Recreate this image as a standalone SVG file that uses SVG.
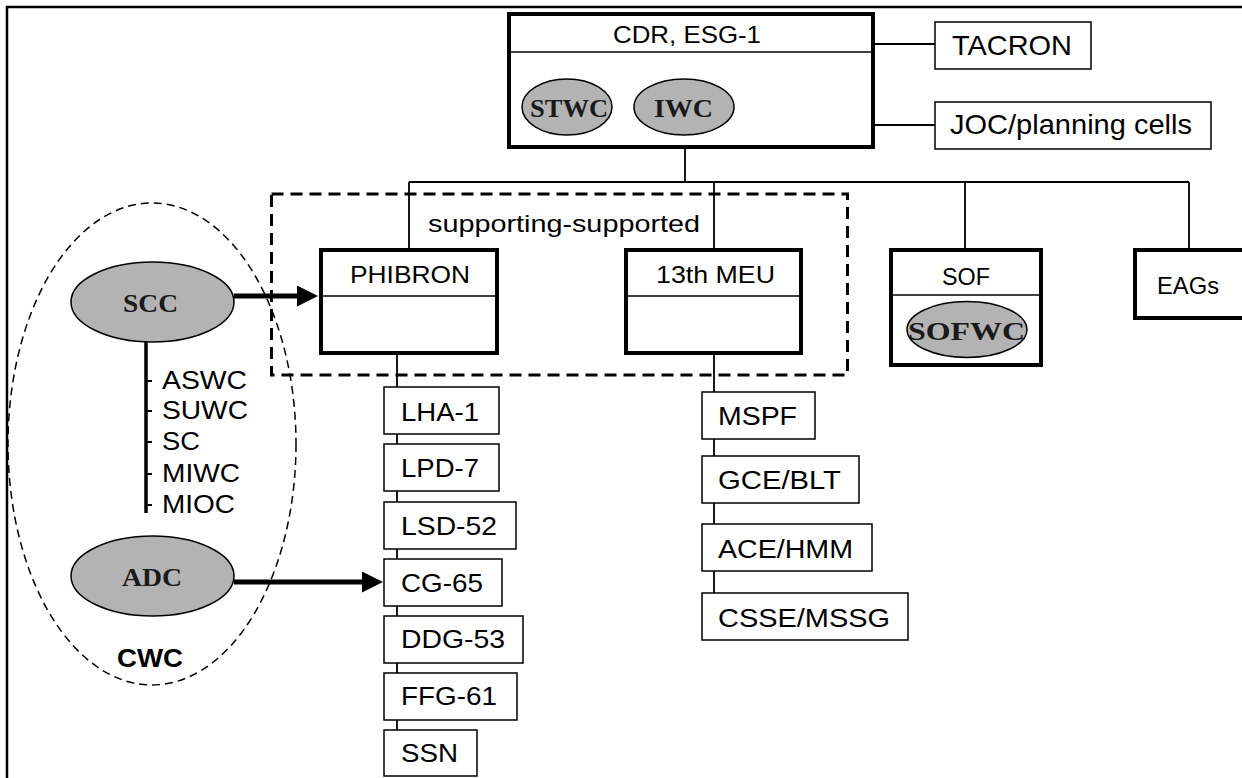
<svg xmlns="http://www.w3.org/2000/svg" width="1242" height="778" viewBox="0 0 1242 778">
<style>
.frame{fill:none;stroke:#000;stroke-width:2.5}
.thick{fill:#fff;stroke:#000;stroke-width:4}
.thin{fill:#fff;stroke:#000;stroke-width:1.5}
.div{fill:none;stroke:#000;stroke-width:1.5}
.ln{fill:none;stroke:#000;stroke-width:1.8}
.el{fill:#b3b3b3;stroke:#000;stroke-width:1.5}
.t{font-family:"Liberation Sans",Arial,sans-serif;font-size:25px;fill:#000}
.h{font-family:"Liberation Sans",Arial,sans-serif;font-size:24px;fill:#000}
.b{font-family:"Liberation Sans",Arial,sans-serif;font-size:26px;font-weight:bold;fill:#000}
.s{font-family:"Liberation Serif","Times New Roman",serif;font-weight:bold;font-size:26px;fill:#1a1a1a}
.arr{fill:none;stroke:#000;stroke-width:5;marker-end:url(#ah)}
</style>
<defs>
<marker id="ah" markerUnits="userSpaceOnUse" markerWidth="22" markerHeight="22" refX="0" refY="10.5" orient="auto">
<path d="M0,0 L21,10.5 L0,21 Z" fill="#000"/>
</marker>
</defs>
<rect width="1242" height="778" fill="#fff"/>
<path class="frame" d="M7,778 V7 H1242"/>

<g id="connectors">
<path class="ln" d="M685,149 V182 M409,182 H1189 M409,182 V250 M714,182 V250 M965,182 V250 M1189,182 V250"/>
<path class="ln" d="M875,44 H935 M875,125 H935"/>
<path class="ln" d="M397,355 V730 M714,355 V593"/>
<path fill="none" stroke="#000" stroke-width="3.5" d="M146,342 V513"/>
<path class="ln" d="M146,381 h6 M146,411 h6 M146,442 h6 M146,474 h6 M146,505 h6"/>
<path class="arr" d="M234,296 H297"/>
<path class="arr" d="M234,582 H362"/>
</g>

<g id="supporting-group">
<rect x="271.5" y="194" width="576" height="181" fill="none" stroke="#000" stroke-width="3" stroke-dasharray="12 7"/>
<text class="h" x="428" y="232" textLength="272" lengthAdjust="spacingAndGlyphs">supporting-supported</text>
</g>

<g id="cwc-group">
<ellipse cx="152" cy="444" rx="144" ry="241" fill="none" stroke="#000" stroke-width="1.5" stroke-dasharray="8 5"/>
<text class="b" x="117" y="667" textLength="66" lengthAdjust="spacingAndGlyphs">CWC</text>
</g>

<g id="cdr">
<rect class="thick" x="509" y="14" width="364" height="133"/>
<path class="div" d="M509,52 H873"/>
<text class="h" x="613" y="43" textLength="148" lengthAdjust="spacingAndGlyphs">CDR, ESG-1</text>
<ellipse class="el" cx="567" cy="107" rx="45" ry="28"/>
<text class="s" x="530" y="117" textLength="78" lengthAdjust="spacingAndGlyphs">STWC</text>
<ellipse class="el" cx="684" cy="107" rx="50" ry="28"/>
<text class="s" x="654" y="117" textLength="59" lengthAdjust="spacingAndGlyphs">IWC</text>
</g>

<g id="tacron">
<rect class="thin" x="935" y="22" width="156" height="47"/>
<text class="t" style="font-size:28px" x="952" y="55" textLength="120" lengthAdjust="spacingAndGlyphs">TACRON</text>
</g>
<g id="joc">
<rect class="thin" x="935" y="102" width="276" height="47"/>
<text class="t" style="font-size:28px" x="950" y="134" textLength="242" lengthAdjust="spacingAndGlyphs">JOC/planning cells</text>
</g>

<g id="phibron">
<rect class="thick" x="321" y="250" width="176" height="103"/>
<path class="div" d="M321,296 H497"/>
<text class="h" x="350" y="283" textLength="120" lengthAdjust="spacingAndGlyphs">PHIBRON</text>
</g>
<g id="meu">
<rect class="thick" x="626" y="250" width="175" height="103"/>
<path class="div" d="M626,296 H801"/>
<text class="h" x="656" y="283" textLength="119" lengthAdjust="spacingAndGlyphs">13th MEU</text>
</g>
<g id="sof">
<rect class="thick" x="891" y="250" width="150" height="115"/>
<path class="div" d="M891,295 H1041"/>
<text class="h" x="942" y="285" textLength="48" lengthAdjust="spacingAndGlyphs">SOF</text>
<ellipse class="el" cx="967" cy="329.5" rx="60" ry="28"/>
<text class="s" x="908" y="340" textLength="117" lengthAdjust="spacingAndGlyphs">SOFWC</text>
</g>
<g id="eags">
<rect class="thick" x="1135" y="250" width="120" height="68"/>
<text class="h" x="1157" y="294" textLength="62" lengthAdjust="spacingAndGlyphs">EAGs</text>
</g>

<g id="scc">
<ellipse class="el" cx="152.5" cy="302" rx="81.5" ry="40"/>
<text class="s" x="123" y="312" textLength="55" lengthAdjust="spacingAndGlyphs">SCC</text>
</g>
<g id="scc-roles">
<text class="t" style="font-size:26px" x="162" y="389" textLength="85" lengthAdjust="spacingAndGlyphs">ASWC</text>
<text class="t" style="font-size:26px" x="162" y="419" textLength="86" lengthAdjust="spacingAndGlyphs">SUWC</text>
<text class="t" style="font-size:26px" x="162" y="450" textLength="38" lengthAdjust="spacingAndGlyphs">SC</text>
<text class="t" style="font-size:26px" x="162" y="482" textLength="78" lengthAdjust="spacingAndGlyphs">MIWC</text>
<text class="t" style="font-size:26px" x="162" y="513" textLength="73" lengthAdjust="spacingAndGlyphs">MIOC</text>
</g>
<g id="adc">
<ellipse class="el" cx="152.5" cy="576" rx="81.5" ry="40"/>
<text class="s" x="122" y="586" textLength="60" lengthAdjust="spacingAndGlyphs">ADC</text>
</g>

<g id="lha1"><rect class="thin" x="384" y="387" width="115" height="47"/><text class="t" x="401" y="421" textLength="78" lengthAdjust="spacingAndGlyphs">LHA-1</text></g>
<g id="lpd7"><rect class="thin" x="384" y="444" width="115" height="47"/><text class="t" x="401" y="477" textLength="78" lengthAdjust="spacingAndGlyphs">LPD-7</text></g>
<g id="lsd52"><rect class="thin" x="384" y="502" width="132" height="47"/><text class="t" x="401" y="535" textLength="96" lengthAdjust="spacingAndGlyphs">LSD-52</text></g>
<g id="cg65"><rect class="thin" x="384" y="559" width="118" height="47"/><text class="t" x="401" y="592" textLength="82" lengthAdjust="spacingAndGlyphs">CG-65</text></g>
<g id="ddg53"><rect class="thin" x="384" y="616" width="139" height="47"/><text class="t" x="401" y="648" textLength="104" lengthAdjust="spacingAndGlyphs">DDG-53</text></g>
<g id="ffg61"><rect class="thin" x="384" y="673" width="133" height="47"/><text class="t" x="401" y="705" textLength="96" lengthAdjust="spacingAndGlyphs">FFG-61</text></g>
<g id="ssn"><rect class="thin" x="384" y="730" width="93" height="46"/><text class="t" x="401" y="762" textLength="57" lengthAdjust="spacingAndGlyphs">SSN</text></g>

<g id="mspf"><rect class="thin" x="702" y="392" width="113" height="47"/><text class="t" x="718" y="425" textLength="79" lengthAdjust="spacingAndGlyphs">MSPF</text></g>
<g id="gce"><rect class="thin" x="702" y="456" width="157" height="47"/><text class="t" x="718" y="489" textLength="123" lengthAdjust="spacingAndGlyphs">GCE/BLT</text></g>
<g id="ace"><rect class="thin" x="702" y="524" width="170" height="47"/><text class="t" x="718" y="558" textLength="135" lengthAdjust="spacingAndGlyphs">ACE/HMM</text></g>
<g id="csse"><rect class="thin" x="702" y="593" width="206" height="47"/><text class="t" x="718" y="627" textLength="172" lengthAdjust="spacingAndGlyphs">CSSE/MSSG</text></g>
</svg>
